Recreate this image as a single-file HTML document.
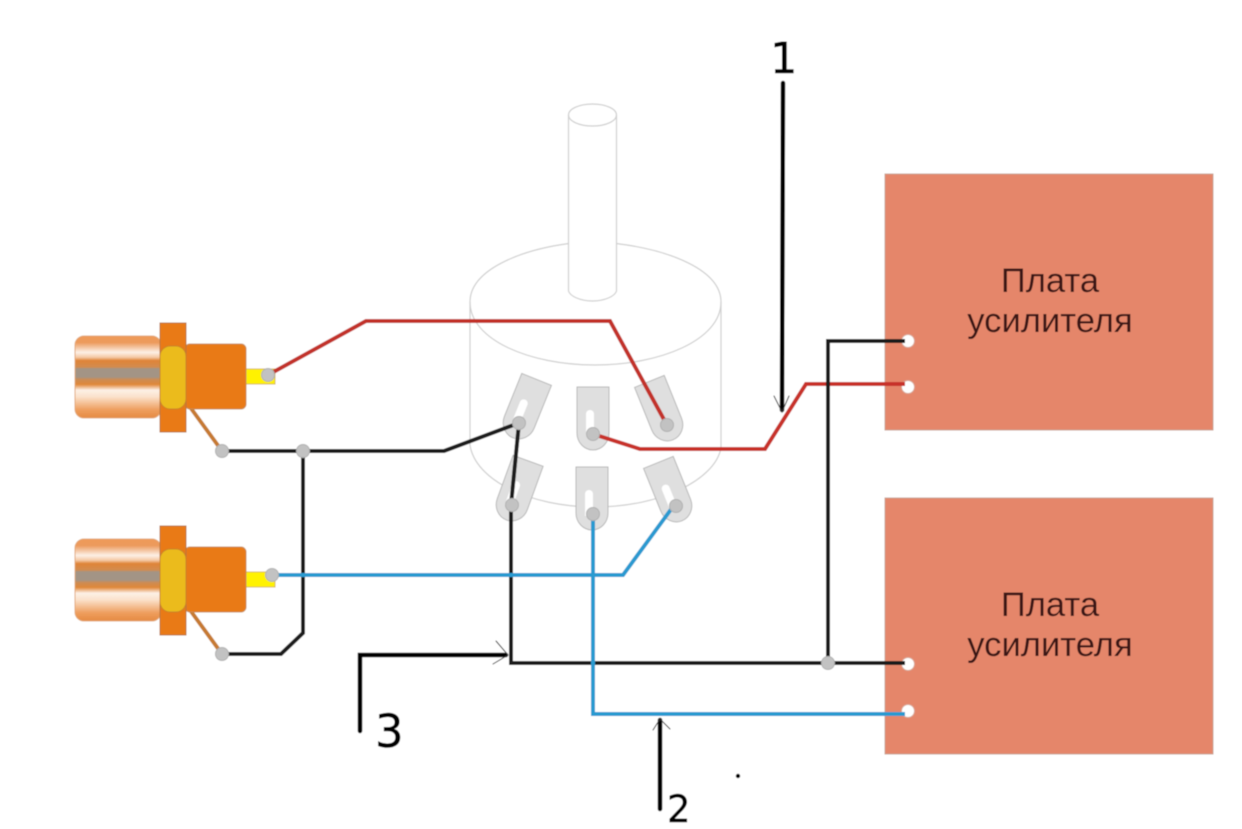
<!DOCTYPE html>
<html><head><meta charset="utf-8"><style>html,body{margin:0;padding:0;background:#fff}svg{display:block}</style></head>
<body>
<svg width="1242" height="829" viewBox="0 0 1242 829" xmlns="http://www.w3.org/2000/svg">
<defs>
<filter id="soft" x="-2%" y="-2%" width="104%" height="104%"><feGaussianBlur stdDeviation="0.45"/></filter>
<linearGradient id="cap" x1="0" y1="0" x2="0" y2="1">
<stop offset="0" stop-color="#ee9a58"/><stop offset=".08" stop-color="#ec9a5c"/><stop offset=".2" stop-color="#fdf0e6"/><stop offset=".26" stop-color="#f4c8a4"/><stop offset=".3" stop-color="#df8438"/><stop offset=".38" stop-color="#d28c50"/><stop offset=".4" stop-color="#a39485"/><stop offset=".5" stop-color="#a39485"/><stop offset=".53" stop-color="#cc8c55"/><stop offset=".59" stop-color="#e08838"/><stop offset=".66" stop-color="#fdf0e6"/><stop offset=".74" stop-color="#fbe2cc"/><stop offset=".9" stop-color="#ee9e5e"/><stop offset="1" stop-color="#e58a42"/>
</linearGradient>
<g id="rca">
<rect x="75" y="336" width="86" height="82" rx="9" fill="url(#cap)" stroke="#e2a878" stroke-width="1"/>
<line x1="190" y1="407" x2="222" y2="451" stroke="#c67a30" stroke-width="4"/>
<rect x="185" y="344" width="61" height="65" rx="5" fill="#e97a16" stroke="#c98a50" stroke-width="1"/>
<rect x="160" y="323" width="26" height="109" fill="#e97a16" stroke="#b9743a" stroke-width="1"/>
<rect x="160" y="346" width="26" height="63" rx="10" fill="#ebbb1e" stroke="#c9822a" stroke-width="1"/>
</g>
<path id="tabbody" d="M-16-47H16V-1A16 17 0 0 1-16-1Z" fill="#dfdfdf" stroke="#b8b8b8" stroke-width="1"/>
<path id="slot" d="M-7-20a4 4 0 0 1 8 0V2H-7Z" fill="#fff"/>
</defs>
<g filter="url(#soft)">
<rect width="1242" height="829" fill="#fff"/>

<!-- Potentiometer outline -->
<g fill="none" stroke="#cfcfcf" stroke-width="1.2">
<path d="M569 243.5C520 250 470 270 470 302C470 340 530 365 595 365C660 365 721 340 721 302C721 270 670 250 616 243.5"/>
<path d="M470 302V445C475 480 530 507 595 507C660 507 715 480 721 448V302"/>
<ellipse cx="592.5" cy="115" rx="24" ry="11"/>
<path d="M568.5 115V291C570 296 580 301 592.5 301C605 301 615 296 616.5 291V115"/>
</g>

<!-- Switch tabs -->
<g transform="translate(519 423) rotate(22)"><use href="#tabbody"/><use href="#slot"/></g>
<g transform="translate(593 434)"><use href="#tabbody"/><use href="#slot"/></g>
<g transform="translate(667 425) rotate(-22)"><use href="#tabbody"/></g>
<g transform="translate(512 505) rotate(20)"><use href="#tabbody"/><use href="#slot"/></g>
<g transform="translate(592 514)"><use href="#tabbody"/><use href="#slot"/></g>
<g transform="translate(676 506) rotate(-22)"><use href="#tabbody"/><use href="#slot"/></g>

<!-- Boards -->
<rect x="885" y="174" width="328" height="256" fill="#e5866a" stroke="#c9a090" stroke-width="1"/>
<rect x="885" y="498" width="328" height="256" fill="#e5866a" stroke="#c9a090" stroke-width="1"/>
<g font-family="'Liberation Sans',sans-serif" font-size="34.6" fill="#3a1712" text-anchor="middle">
<text x="1050" y="292">Плата</text>
<text x="1050" y="332">усилителя</text>
<text x="1050" y="616">Плата</text>
<text x="1050" y="656">усилителя</text>
</g>

<!-- RCA connectors -->
<rect x="246" y="369" width="29" height="15" fill="#fff200" stroke="#d8b84a" stroke-width="1"/>
<use href="#rca"/>
<rect x="246" y="572" width="29" height="15" fill="#fff200" stroke="#d8b84a" stroke-width="1"/>
<use href="#rca" y="203"/>

<!-- Board terminals -->
<g fill="#fff" stroke="#d9a594" stroke-width="1">
<circle cx="908" cy="341" r="6.5"/><circle cx="908" cy="387" r="6.5"/><circle cx="908" cy="664" r="6.5"/><circle cx="908" cy="711" r="6.5"/>
</g>

<!-- Wires -->
<g fill="none" stroke-width="4" stroke-linejoin="miter">
<path d="M268 375L366 321H610L667 425" stroke="#c2302a"/>
<path d="M593 434L640 449H765L806 384H905" stroke="#c8302a"/>
<path d="M222 451H444L519 423" stroke="#1a1a1a"/>
<path d="M303 451V633L281 654H222" stroke="#1a1a1a"/>
<path d="M519 423L511 505V663H905" stroke="#1a1a1a"/>
<path d="M828 663V341H905" stroke="#1a1a1a"/>
<path d="M272 575H623L672 508" stroke="#2a9ad0"/>
<path d="M593 514V714H905" stroke="#2a9ad0"/>
</g>

<!-- Junction dots -->
<g fill="#c2c2c2" stroke="#b0b0b0" stroke-width="1">
<circle cx="268" cy="375" r="6.5"/><circle cx="272" cy="575" r="6.5"/>
<circle cx="222" cy="451" r="6.5"/><circle cx="222" cy="654" r="6.5"/>
<circle cx="303" cy="451" r="6.5"/><circle cx="828" cy="663" r="6.5"/>
<circle cx="519" cy="423" r="6.5"/><circle cx="593" cy="434" r="6.5"/><circle cx="667" cy="425" r="6.5"/>
<circle cx="512" cy="505" r="6.5"/><circle cx="593" cy="514" r="6.5"/><circle cx="676" cy="506" r="6.5"/>
</g>

<!-- Annotations -->
<g fill="none" stroke="#000" stroke-linecap="round">
<path d="M783 83L782 410" stroke-width="4.5"/>
<path d="M360 731V655H506" stroke-width="4.5"/>
<path d="M660 809V720" stroke-width="4.5"/>
<path d="M774 396L782 412L789 396M496 641L508 655L493 664M653 730L660 719L670 729" stroke-width="1" stroke="#333"/>
</g>
<circle cx="738" cy="776" r="2.2" fill="#000"/>
<g font-family="'DejaVu Sans',sans-serif" fill="#000" stroke="#000" stroke-width=".5">
<text x="770" y="73" font-size="43">1</text>
<text x="375" y="747" font-size="45">3</text>
<text x="667" y="822" font-size="37">2</text>
</g>
</g>
</svg>
</body></html>
